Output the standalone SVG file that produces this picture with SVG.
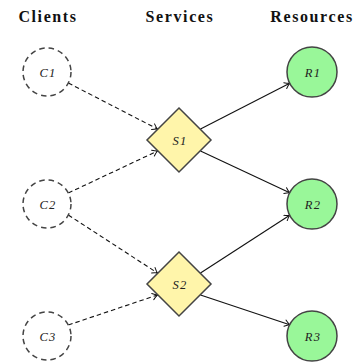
<svg xmlns="http://www.w3.org/2000/svg" width="361" height="362" viewBox="0 0 361 362">
<style>
.hdr{font-family:"Liberation Serif","DejaVu Serif",serif;font-weight:bold;font-size:16px;fill:#111;text-anchor:middle;letter-spacing:1.6px}
.lbl{font-family:"Liberation Serif","DejaVu Serif",serif;font-style:italic;font-size:12.5px;fill:#222;text-anchor:middle;letter-spacing:1.2px}
.client{fill:#fff;stroke:#444;stroke-width:1.5;stroke-dasharray:5.5 4}
.svc{fill:#fff5aa;stroke:#444;stroke-width:1.5}
.res{fill:#99f799;stroke:#444;stroke-width:1.5}
.dash{stroke:#111;stroke-width:1.1;stroke-dasharray:4.5 3;fill:none;marker-end:url(#arr)}
.solid{stroke:#111;stroke-width:1.1;fill:none;marker-end:url(#arr)}
</style>
<defs>
<marker id="arr" viewBox="-6 -4 8 8" refX="0" refY="0" markerWidth="8" markerHeight="8" markerUnits="userSpaceOnUse" orient="auto">
<path d="M-5,-3.2 Q-2,-0.8 0,0 Q-2,0.8 -5,3.2" fill="none" stroke="#111" stroke-width="1" stroke-linecap="round"/>
</marker>
</defs>
<text class="hdr" x="48" y="22">Clients</text>
<text class="hdr" x="180" y="22">Services</text>
<text class="hdr" x="312" y="22">Resources</text>
<g id="connectors">
<line class="dash" x1="68.3" y1="83" x2="157.5" y2="129"/>
<line class="dash" x1="68.3" y1="193" x2="157.5" y2="151"/>
<line class="dash" x1="68.3" y1="215" x2="157.5" y2="273"/>
<line class="dash" x1="68.3" y1="325" x2="157.5" y2="295"/>
<line class="solid" x1="200.5" y1="129" x2="289.7" y2="83.3"/>
<line class="solid" x1="200.5" y1="151" x2="289.7" y2="192.7"/>
<line class="solid" x1="200.5" y1="273" x2="289.7" y2="215.3"/>
<line class="solid" x1="200.5" y1="295" x2="289.7" y2="324.7"/>
</g>
<g id="C1"><circle class="client" cx="47" cy="72" r="24"/><text class="lbl" x="48" y="76.5">C1</text></g>
<g id="C2"><circle class="client" cx="47" cy="204" r="24"/><text class="lbl" x="48" y="208.5">C2</text></g>
<g id="C3"><circle class="client" cx="47" cy="336" r="24"/><text class="lbl" x="48" y="340.5">C3</text></g>
<g id="S1"><polygon class="svc" points="179,108 211,140 179,172 147,140"/><text class="lbl" x="180" y="144.5">S1</text></g>
<g id="S2"><polygon class="svc" points="179,252 211,284 179,316 147,284"/><text class="lbl" x="180" y="288.5">S2</text></g>
<g id="R1"><circle class="res" cx="312" cy="72" r="25"/><text class="lbl" x="313" y="76.5">R1</text></g>
<g id="R2"><circle class="res" cx="312" cy="204" r="25"/><text class="lbl" x="313" y="208.5">R2</text></g>
<g id="R3"><circle class="res" cx="312" cy="336" r="25"/><text class="lbl" x="313" y="340.5">R3</text></g>
</svg>
